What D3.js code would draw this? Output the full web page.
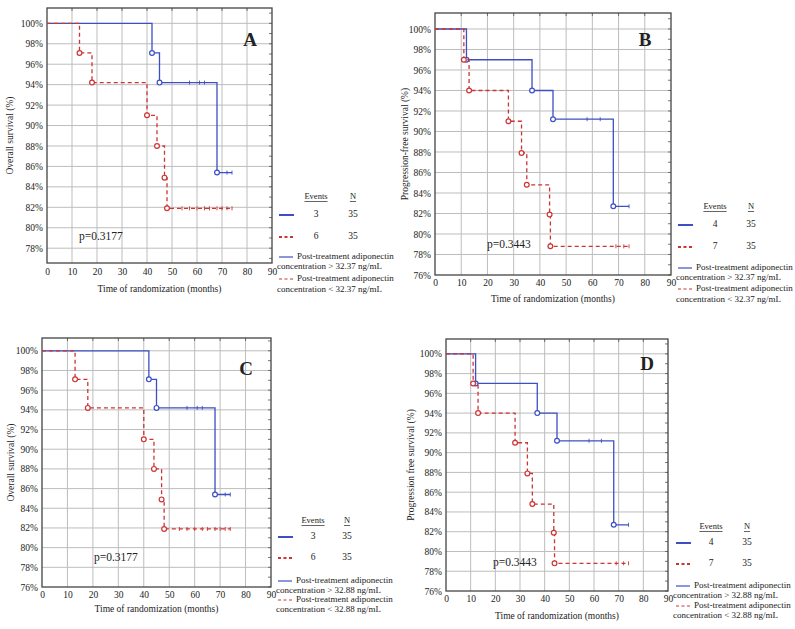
<!DOCTYPE html>
<html><head><meta charset="utf-8">
<script src="https://cdn.jsdelivr.net/npm/d3@7"></script>
<style>
body{margin:0;background:#fff}
text{font-family:"Liberation Serif","Times New Roman",serif;fill:#222}
</style>
</head><body>
<svg id="c" width="795" height="629"></svg>
<script>
// ---------- DATA ----------
const xTickValues = [0, 10, 20, 30, 40, 50, 60, 70, 80, 90];
const yTicksFull = [76, 78, 80, 82, 84, 86, 88, 90, 92, 94, 96, 98, 100];
const yTicksA = [78, 80, 82, 84, 86, 88, 90, 92, 94, 96, 98, 100];

// Overall survival (panels A, C)
const osHighTimes = [42, 45, 68];
const osHighSurv = [97.1, 94.2, 85.4];
const osHighCensor = [57, 61, 63, 72, 74];
const osLowTimes = [13, 18, 40, 44, 47, 48];
const osLowSurv = [97.1, 94.2, 91.0, 88.0, 84.9, 81.9];
const osLowCensor = [54, 57, 60, 63, 65, 68, 70, 72, 74];
const osEnd = [74, 74];

// Progression-free survival (panels B, D)
const pfsHighTimes = [12, 37, 45, 68];
const pfsHighSurv = [97.0, 94.0, 91.2, 82.7];
const pfsHighCensor = [58, 63, 74];
const pfsLowTimes = [11, 13, 28, 33, 35, 43.7, 44];
const pfsLowSurv = [97.0, 94.0, 91.0, 87.9, 84.8, 81.9, 78.8];
const pfsLowCensor = [69, 72, 74];
const pfsEnd = [74, 74];

const eventsOS = [3, 6];
const eventsPFS = [4, 7];
const nValues = [35, 35];
const panelLetters = ["A", "B", "C", "D"];
const pValues = ["p=0.3177", "p=0.3443", "p=0.3177", "p=0.3443"];
const yTitles = ["Overall survival (%)", "Progression-free survival (%)", "Overall survival (%)", "Progression free survival (%)"];
const xTitle = "Time of randomization (months)";
const cutoffs = ["32.37", "32.37", "32.88", "32.88"];

// ---------- STYLE / LAYOUT ----------
const BLUE = "#3d4fc4", RED = "#cc3535";
const svg = d3.select("#c");

const layouts = [
  {left:47, right:272, top:8, bottom:263, yDom:[76.55,101.5], yTicks:yTicksA, xLabY:273, titleY:290, yLabX:11,
   letter:[250,42], p:[79,237], lg:{ev:316, n:353, hY:197, r1:215, r2:237, lx:279, d1:257, d2:267, d3:279, d4:290, tx:277}},
  {left:435, right:671, top:13, bottom:275, yDom:[76,101.56], yTicks:yTicksFull, xLabY:284, titleY:300, yLabX:406,
   letter:[645,42], p:[487,245], lg:{ev:715, n:751, hY:207, r1:225, r2:247, lx:678, d1:268, d2:278, d3:289, d4:300, tx:676}},
  {left:42, right:271, top:338, bottom:587, yDom:[76,101.3], yTicks:yTicksFull, xLabY:596, titleY:610, yLabX:12,
   letter:[246,371], p:[94,558], lg:{ev:313, n:347, hY:521, r1:537, r2:558, lx:278, d1:581, d2:591, d3:600, d4:610, tx:276}},
  {left:446, right:668, top:339, bottom:591, yDom:[76,101.5], yTicks:yTicksFull, xLabY:600, titleY:617, yLabX:412,
   letter:[647,366], p:[493,563], lg:{ev:711, n:747, hY:527, r1:543, r2:564, lx:676, d1:586, d2:596, d3:606, d4:616, tx:673}}
];

const curvesOS = [
  {times:osHighTimes, surv:osHighSurv, censor:osHighCensor, end:osEnd[0], color:BLUE, dash:null},
  {times:osLowTimes, surv:osLowSurv, censor:osLowCensor, end:osEnd[1], color:RED, dash:"4,3"}
];
const curvesPFS = [
  {times:pfsHighTimes, surv:pfsHighSurv, censor:pfsHighCensor, end:pfsEnd[0], color:BLUE, dash:null},
  {times:pfsLowTimes, surv:pfsLowSurv, censor:pfsLowCensor, end:pfsEnd[1], color:RED, dash:"4,3"}
];

function levelAt(c, t) {
  let s = 100;
  c.times.forEach((tt, k) => { if (tt <= t) s = c.surv[k]; });
  return s;
}

function drawPanel(i) {
  const L = layouts[i];
  const curves = (i % 2 === 0) ? curvesOS : curvesPFS;
  const events = (i % 2 === 0) ? eventsOS : eventsPFS;
  const g = svg.append("g");
  const x = d3.scaleLinear().domain([0, 90]).range([L.left, L.right]);
  const y = d3.scaleLinear().domain(L.yDom).range([L.bottom, L.top]);

  // grid
  g.append("g").selectAll("line").data(xTickValues.filter(d => d > 0 && d < 90)).join("line")
    .attr("x1", d => x(d)).attr("x2", d => x(d)).attr("y1", L.top).attr("y2", L.bottom)
    .attr("stroke", "#bdbdbd").attr("stroke-width", 1);
  g.append("g").selectAll("line").data(L.yTicks.filter(d => d > L.yDom[0] + 0.1)).join("line")
    .attr("x1", L.left).attr("x2", L.right).attr("y1", d => y(d)).attr("y2", d => y(d))
    .attr("stroke", "#bdbdbd").attr("stroke-width", 1);

  // minor ticks on right edge / top edge
  const minor = d3.range(Math.ceil(L.yDom[0]), Math.floor(L.yDom[1]) + 1);
  g.append("g").selectAll("line").data(minor).join("line")
    .attr("x1", L.right - 3).attr("x2", L.right).attr("y1", d => y(d)).attr("y2", d => y(d))
    .attr("stroke", "#555").attr("stroke-width", 0.8);
  g.append("g").selectAll("line").data(xTickValues.filter(d => d > 0 && d < 90)).join("line")
    .attr("x1", d => x(d)).attr("x2", d => x(d)).attr("y1", L.top).attr("y2", L.top + 3)
    .attr("stroke", "#555").attr("stroke-width", 0.8);

  // frame
  g.append("rect").attr("x", L.left).attr("y", L.top)
    .attr("width", L.right - L.left).attr("height", L.bottom - L.top)
    .attr("fill", "none").attr("stroke", "#444").attr("stroke-width", 1.3);

  // axes
  const ax = g.append("g").attr("transform", `translate(0,${L.bottom})`)
    .call(d3.axisBottom(x).tickValues(xTickValues).tickFormat(d3.format("d")).tickSize(0).tickPadding(L.xLabY - L.bottom - 4.5));
  ax.select(".domain").remove();
  ax.selectAll("text").attr("font-size", 9.5).attr("font-family", "Liberation Serif").attr("fill", "#222");
  const ay = g.append("g").attr("transform", `translate(${L.left},0)`)
    .call(d3.axisLeft(y).tickValues(L.yTicks).tickFormat(d => d + "%").tickSize(0).tickPadding(4));
  ay.select(".domain").remove();
  ay.selectAll("text").attr("font-size", 9.5).attr("font-family", "Liberation Serif").attr("fill", "#222");

  // titles
  g.append("text").attr("x", (L.left + L.right) / 2).attr("y", L.titleY)
    .attr("text-anchor", "middle").attr("dominant-baseline", "middle").attr("font-size", 9.5).text(xTitle);
  const cy = (L.top + L.bottom) / 2;
  g.append("text").attr("transform", `translate(${L.yLabX},${cy}) rotate(-90)`)
    .attr("text-anchor", "middle").attr("dominant-baseline", "middle").attr("font-size", 9.5).text(yTitles[i]);

  // curves
  curves.forEach(c => {
    const pts = [[0, 100]];
    let prev = 100;
    c.times.forEach((t, k) => { pts.push([t, prev]); pts.push([t, c.surv[k]]); prev = c.surv[k]; });
    pts.push([c.end, prev]);
    g.append("path").datum(pts)
      .attr("d", d3.line().x(d => x(d[0])).y(d => y(d[1])))
      .attr("fill", "none").attr("stroke", c.color).attr("stroke-width", 1.3)
      .attr("stroke-dasharray", c.dash);
    // censor ticks
    g.append("g").selectAll("line").data(c.censor).join("line")
      .attr("x1", d => x(d)).attr("x2", d => x(d))
      .attr("y1", d => y(levelAt(c, d)) - 2).attr("y2", d => y(levelAt(c, d)) + 2)
      .attr("stroke", c.color).attr("stroke-width", 0.9);
    // event circles
    g.append("g").selectAll("circle").data(c.times.map((t, k) => [t, c.surv[k]])).join("circle")
      .attr("cx", d => x(d[0])).attr("cy", d => y(d[1])).attr("r", 2.4)
      .attr("fill", "#fff").attr("stroke", c.color).attr("stroke-width", 1.2);
  });

  // panel letter and p
  g.append("text").attr("x", L.letter[0]).attr("y", L.letter[1]).attr("text-anchor", "middle")
    .attr("dominant-baseline", "middle").attr("font-size", 19).attr("font-weight", "bold").text(panelLetters[i]);
  g.append("text").attr("x", L.p[0]).attr("y", L.p[1]).attr("dominant-baseline", "middle")
    .attr("font-size", 11.5).text(pValues[i]);

  // legend
  const lg = L.lg;
  const hdr = [["Events", lg.ev], ["N", lg.n]];
  hdr.forEach(([t, xx]) => {
    const tt = g.append("text").attr("x", xx).attr("y", lg.hY).attr("text-anchor", "middle")
      .attr("dominant-baseline", "middle").attr("font-size", 8.5).text(t);
    const w = tt.node().getComputedTextLength();
    g.append("line").attr("x1", xx - w / 2).attr("x2", xx + w / 2).attr("y1", lg.hY + 4.5).attr("y2", lg.hY + 4.5)
      .attr("stroke", "#222").attr("stroke-width", 0.7);
  });
  [lg.r1, lg.r2].forEach((ry, k) => {
    g.append("line").attr("x1", lg.lx).attr("x2", lg.lx + 15).attr("y1", ry).attr("y2", ry)
      .attr("stroke", curves[k].color).attr("stroke-width", 2).attr("stroke-dasharray", k ? "3,2.5" : null);
    g.append("text").attr("x", lg.ev).attr("y", ry).attr("text-anchor", "middle").attr("dominant-baseline", "middle")
      .attr("font-size", 9.5).text(events[k]);
    g.append("text").attr("x", lg.n).attr("y", ry).attr("text-anchor", "middle").attr("dominant-baseline", "middle")
      .attr("font-size", 9.5).text(nValues[k]);
  });
  const desc = [[lg.d1, lg.d2, ">"], [lg.d3, lg.d4, "<"]];
  desc.forEach(([ya, yb, sign], k) => {
    g.append("line").attr("x1", lg.lx).attr("x2", lg.lx + 14).attr("y1", ya).attr("y2", ya)
      .attr("stroke", curves[k].color).attr("stroke-width", 1.2).attr("stroke-dasharray", k ? "3,2.5" : null);
    g.append("text").attr("x", lg.lx + 18).attr("y", ya).attr("dominant-baseline", "middle")
      .attr("font-size", 9).text("Post-treatment adiponectin");
    g.append("text").attr("x", lg.tx).attr("y", yb).attr("dominant-baseline", "middle")
      .attr("font-size", 9).text(`concentration ${sign} ${cutoffs[i]} ng/mL`);
  });
}

[0, 1, 2, 3].forEach(drawPanel);
</script>
</body></html>
